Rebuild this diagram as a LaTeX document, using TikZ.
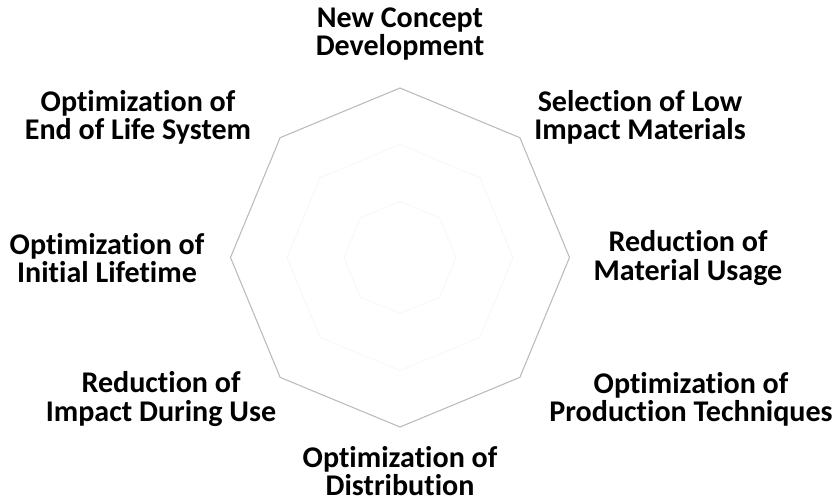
\documentclass[tikz,border=0pt]{standalone}
\usepackage{fontspec}
\setmainfont[Ligatures=CommonOff]{Carlito}
\begin{document}
\begin{tikzpicture}[scale=0.2]
\tikzstyle{every node}+=[inner sep=0pt, align=center, font=\bfseries\fontsize{17.1}{16}\selectfont]
\useasboundingbox (0,0) rectangle (83.7,-50.1);
\begin{scope}[shift={(40.0,-25.75)}]
\foreach \r in {5.6,11.3}
  \draw [black!3, line width=0.5pt] (90:\r) \foreach \a in {45,0,-45,-90,-135,-180,-225} { -- (\a:\r) } -- cycle;
\draw [black!27, line width=0.6pt] (90:16.95) \foreach \a in {45,0,-45,-90,-135,-180,-225} { -- (\a:16.95) } -- cycle;
\end{scope}
\node (newconcept) at (40.0,-3.4) {New Concept\\Development};
\node (lowimpact) at (64.0,-11.7) {Selection of Low\\Impact Materials};
\node (usage) at (68.8,-25.8) {Reduction of\\Material Usage};
\node (production) at (69.1,-39.9) {Optimization of\\Production Techniques};
\node (distribution) at (40.0,-47.1) {Optimization of\\Distribution};
\node (duringuse) at (16.1,-39.9) {Reduction of\\Impact During Use};
\node (lifetime) at (10.7,-25.8) {Optimization of\\Initial Lifetime};
\node (endoflife) at (13.8,-11.7) {Optimization of\\End of Life System};
\end{tikzpicture}
\end{document}
